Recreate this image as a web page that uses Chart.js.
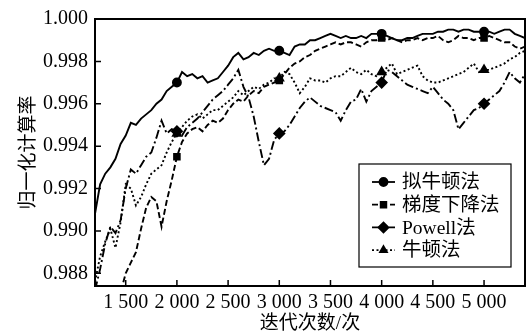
<!DOCTYPE html>
<html>
<head>
<meta charset="utf-8">
<script src="https://cdn.jsdelivr.net/npm/chart.js@4/dist/chart.umd.min.js"></script>
<style>
html, body { margin: 0; padding: 0; background: #fff; }
</style>
</head>
<body>
<canvas id="chart" width="527" height="335"></canvas>
<script>
// iteration numbers (x)
const iterations = [
  1200, 1250, 1300, 1350, 1400, 1450,
  1500, 1550, 1600, 1650, 1700, 1750, 1800, 1850, 1900, 1950,
  2000, 2050, 2100, 2150, 2200, 2250, 2300, 2350, 2400, 2450,
  2500, 2550, 2600, 2650, 2700, 2750, 2800, 2850, 2900, 2950,
  3000, 3050, 3100, 3150, 3200, 3250, 3300, 3350, 3400, 3450,
  3500, 3550, 3600, 3650, 3700, 3750, 3800, 3850, 3900, 3950,
  4000, 4050, 4100, 4150, 4200, 4250, 4300, 4350, 4400, 4450,
  4500, 4550, 4600, 4650, 4700, 4750, 4800, 4850, 4900, 4950,
  5000, 5050, 5100, 5150, 5200, 5250, 5300, 5350, 5400
];

// 拟牛顿法
const quasiNewton = [
  0.9908, 0.9922, 0.9927, 0.9930, 0.9934, 0.9941,
  0.9945, 0.9951, 0.9950, 0.9953, 0.9955, 0.9957, 0.9960, 0.9962, 0.9966, 0.9968,
  0.9970, 0.9975, 0.9973, 0.9974, 0.9972, 0.9973, 0.9970, 0.9971, 0.9972, 0.9975,
  0.9978, 0.9982, 0.9984, 0.9981, 0.9982, 0.9984, 0.9983, 0.9985, 0.9986, 0.9985,
  0.9985, 0.9984, 0.9983, 0.9987, 0.9988, 0.9988, 0.9990, 0.9990, 0.9991, 0.9992,
  0.9993, 0.9992, 0.9991, 0.9992, 0.9991, 0.9991, 0.9992, 0.9991, 0.9993, 0.9993,
  0.9993, 0.9992, 0.9991, 0.9990, 0.9990, 0.9991, 0.9991, 0.9992, 0.9993, 0.9993,
  0.9993, 0.9994, 0.9994, 0.9995, 0.9995, 0.9994, 0.9995, 0.9995, 0.9994, 0.9994,
  0.9994, 0.9994, 0.9993, 0.9994, 0.9995, 0.9995, 0.9993, 0.9992, 0.9991
];

// 梯度下降法
const gradientDescent = [
  0.9840, 0.9846, 0.9852, 0.9858, 0.9864, 0.9871,
  0.9880, 0.9885, 0.9890, 0.9901, 0.9911, 0.9916, 0.9914, 0.9902, 0.9914, 0.9924,
  0.9935, 0.9942, 0.9946, 0.9948, 0.9949, 0.9947, 0.9950, 0.9952, 0.9951, 0.9953,
  0.9957, 0.9960, 0.9962, 0.9961, 0.9964, 0.9966, 0.9965, 0.9968, 0.9969, 0.9970,
  0.9971, 0.9974, 0.9977, 0.9979, 0.9980, 0.9982, 0.9983, 0.9985, 0.9986, 0.9987,
  0.9988, 0.9989, 0.9988, 0.9989, 0.9989, 0.9988, 0.9987, 0.9989, 0.9990, 0.9990,
  0.9991, 0.9990, 0.9991, 0.9990, 0.9989, 0.9990, 0.9990, 0.9991, 0.9990, 0.9991,
  0.9991, 0.9992, 0.9990, 0.9989, 0.9990, 0.9992, 0.9991, 0.9991, 0.9990, 0.9991,
  0.9991, 0.9992, 0.9991, 0.9990, 0.9989, 0.9989, 0.9987, 0.9986, 0.9987
];

// Powell法
const powell = [
  0.9872, 0.9882, 0.9894, 0.9902, 0.9899, 0.9905,
  0.9920, 0.9929, 0.9927, 0.9931, 0.9935, 0.9937, 0.9944, 0.9952, 0.9946, 0.9948,
  0.9947, 0.9945, 0.9949, 0.9951, 0.9953, 0.9956, 0.9959, 0.9962, 0.9964, 0.9966,
  0.9969, 0.9972, 0.9976, 0.9968, 0.9963, 0.9954, 0.9942, 0.9931, 0.9934, 0.9943,
  0.9946, 0.9947, 0.9950, 0.9954, 0.9958, 0.9961, 0.9963, 0.9961, 0.9959, 0.9958,
  0.9957, 0.9956, 0.9952, 0.9957, 0.9961, 0.9962, 0.9967, 0.9961, 0.9966, 0.9968,
  0.9970, 0.9976, 0.9975, 0.9973, 0.9971, 0.9969, 0.9968, 0.9967, 0.9966, 0.9965,
  0.9968, 0.9965, 0.9962, 0.9960, 0.9957, 0.9948, 0.9951, 0.9954, 0.9957, 0.9958,
  0.9960, 0.9962, 0.9964, 0.9966, 0.9970, 0.9975, 0.9972, 0.9970, 0.9974
];

// 牛顿法
const newton = [
  0.9876, 0.9888, 0.9895, 0.9901, 0.9892, 0.9904,
  0.9922, 0.9920, 0.9912, 0.9916, 0.9922, 0.9927, 0.9929, 0.9931, 0.9937, 0.9942,
  0.9946, 0.9949, 0.9952, 0.9954, 0.9955, 0.9953, 0.9955, 0.9957, 0.9957, 0.9959,
  0.9961, 0.9963, 0.9966, 0.9964, 0.9966, 0.9968, 0.9967, 0.9969, 0.9970, 0.9972,
  0.9972, 0.9975, 0.9974, 0.9970, 0.9965, 0.9968, 0.9972, 0.9971, 0.9971, 0.9970,
  0.9972, 0.9973, 0.9973, 0.9975, 0.9977, 0.9975, 0.9974, 0.9976, 0.9974, 0.9973,
  0.9975, 0.9977, 0.9979, 0.9974, 0.9975, 0.9976, 0.9977, 0.9978, 0.9973, 0.9971,
  0.9970, 0.9970, 0.9971, 0.9972, 0.9973, 0.9974, 0.9975, 0.9977, 0.9979, 0.9975,
  0.9976, 0.9976, 0.9977, 0.9978, 0.9979, 0.9981, 0.9982, 0.9984, 0.9985
];

// 刻度
const xTickValues = [1500, 2000, 2500, 3000, 3500, 4000, 4500, 5000];
const xTickLabels = ['1 500', '2 000', '2 500', '3 000', '3 500', '4 000', '4 500', '5 000'];
const yTickValues = [0.988, 0.990, 0.992, 0.994, 0.996, 0.998, 1.000];
const markerIters = [2000, 3000, 4000, 5000];

const seriesNames = ['拟牛顿法', '梯度下降法', 'Powell法', '牛顿法'];

const cjk = '"Liberation Serif", "Noto Sans CJK SC", serif';

function toPoints(vals) {
  return vals.map((v, i) => ({ x: iterations[i], y: v }));
}

function makeSet(label, vals, dash, style, r) {
  return {
    label: label,
    data: toPoints(vals),
    borderColor: '#000',
    backgroundColor: '#000',
    borderWidth: 1.9,
    borderDash: dash,
    pointStyle: style,
    pointRadius: c => markerIters.includes(iterations[c.dataIndex]) ? r : 0,
    pointHoverRadius: 0,
    tension: 0
  };
}

// 刻度线朝内 + 外框 + 图例
const framePlugin = {
  id: 'frame',
  afterDraw(chart) {
    const { ctx, chartArea: a, scales } = chart;
    ctx.save();
    ctx.strokeStyle = '#000';
    ctx.lineWidth = 2;
    ctx.setLineDash([]);
    ctx.strokeRect(a.left, a.top, a.right - a.left, a.bottom - a.top);

    ctx.lineWidth = 1.5;
    ctx.beginPath();
    xTickValues.forEach(v => {
      const px = scales.x.getPixelForValue(v);
      ctx.moveTo(px, a.bottom);
      ctx.lineTo(px, a.bottom - 6);
    });
    yTickValues.forEach(v => {
      const py = scales.y.getPixelForValue(v);
      ctx.moveTo(a.left, py);
      ctx.lineTo(a.left + 6, py);
    });
    ctx.stroke();

    // legend box
    const bx = a.right - 166, by = a.bottom - 122, bw = 152, bh = 103;
    ctx.fillStyle = '#fff';
    ctx.fillRect(bx, by, bw, bh);
    ctx.lineWidth = 1.2;
    ctx.strokeRect(bx, by, bw, bh);

    ctx.font = '19.5px ' + cjk;
    ctx.textBaseline = 'middle';
    chart.data.datasets.forEach((ds, i) => {
      const y = by + 18 + i * 22.7;
      ctx.strokeStyle = '#000';
      ctx.lineWidth = 1.8;
      ctx.setLineDash(ds.borderDash);
      ctx.beginPath();
      ctx.moveTo(bx + 13, y);
      ctx.lineTo(bx + 36, y);
      ctx.stroke();
      ctx.setLineDash([]);
      ctx.fillStyle = '#000';
      const r = ds.pointStyle === 'rectRot' ? 5 : 4;
      Chart.helpers.drawPoint(ctx, { pointStyle: ds.pointStyle, radius: r, borderWidth: 1, rotation: 0 }, bx + 24.5, y);
      ctx.fillStyle = '#000';
      ctx.fillText(ds.label, bx + 43, y + 1);
    });
    ctx.restore();
  }
};

const ctx = document.getElementById('chart').getContext('2d');

new Chart(ctx, {
  type: 'line',
  data: {
    datasets: [
      makeSet(seriesNames[0], quasiNewton, [], 'circle', 4),
      makeSet(seriesNames[1], gradientDescent, [6, 3], 'rect', 4),
      makeSet(seriesNames[2], powell, [9, 3, 2, 3], 'rectRot', 5),
      makeSet(seriesNames[3], newton, [2, 2.5], 'triangle', 4.5)
    ]
  },
  options: {
    responsive: false,
    animation: false,
    devicePixelRatio: 1,
    layout: { padding: { top: 13, right: 2, left: 0, bottom: 0 } },
    plugins: {
      legend: { display: false },
      tooltip: { enabled: false }
    },
    scales: {
      x: {
        type: 'linear',
        min: 1200,
        max: 5400,
        afterBuildTicks: s => { s.ticks = xTickValues.map(v => ({ value: v })); },
        afterFit: s => { s.height = 49; },
        grid: { display: false, drawTicks: false },
        border: { display: false },
        ticks: {
          padding: 5,
          color: '#000',
          maxRotation: 0,
          autoSkip: false,
          font: { family: cjk, size: 20 },
          callback: (v) => xTickLabels[xTickValues.indexOf(v)]
        },
        title: {
          display: true,
          text: '迭代次数/次',
          color: '#000',
          font: { family: cjk, size: 19 },
          padding: { top: 0, bottom: 0 }
        }
      },
      y: {
        min: 0.9874,
        max: 1.0,
        afterBuildTicks: s => { s.ticks = yTickValues.map(v => ({ value: v })); },
        afterFit: s => { s.width = 95; },
        grid: { display: false, drawTicks: false },
        border: { display: false },
        ticks: {
          padding: 7,
          color: '#000',
          autoSkip: false,
          font: { family: cjk, size: 20 },
          callback: v => v.toFixed(3)
        },
        title: {
          display: true,
          text: '归一化计算率',
          color: '#000',
          font: { family: cjk, size: 19 },
          padding: { top: 18, bottom: 0 }
        }
      }
    }
  },
  plugins: [framePlugin]
});
</script>
</body>
</html>
